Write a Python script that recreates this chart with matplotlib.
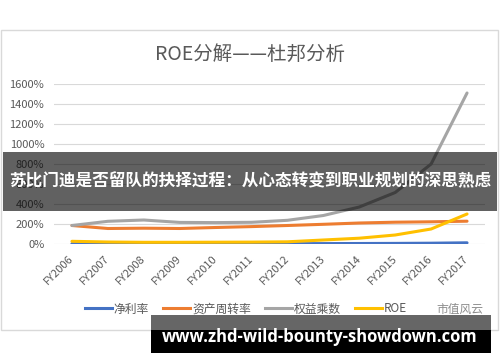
import matplotlib
matplotlib.use("Agg")
import matplotlib.pyplot as plt
from matplotlib.patches import Rectangle
from matplotlib.lines import Line2D

plt.rcParams['font.family'] = ['Noto Sans CJK SC', 'DejaVu Sans']

years = ["FY2006", "FY2007", "FY2008", "FY2009", "FY2010", "FY2011",
         "FY2012", "FY2013", "FY2014", "FY2015", "FY2016", "FY2017"]
net_margin = [3, 3, 2, 2, 2, 3, 3, 4, 5, 6, 8, 12]
asset_turnover = [185, 155, 158, 155, 165, 174, 185, 197, 210, 218, 222, 228]
equity_multiplier = [185, 227, 240, 216, 214, 217, 237, 285, 370, 515, 800, 1510]
roe = [27, 20, 17, 17, 18, 19, 22, 40, 58, 90, 150, 300]
yticks = [0, 200, 400, 600, 800, 1000, 1200, 1400, 1600]

series = [("净利率", net_margin, "#4472C4"),
          ("资产周转率", asset_turnover, "#ED7D31"),
          ("权益乘数", equity_multiplier, "#A5A5A5"),
          ("ROE", roe, "#FFC000")]

W, H = 500, 362
fig = plt.figure(figsize=(W / 100, H / 100), dpi=100)
fig.patch.set_facecolor("white")

def fx(px):
    return px / W

def fy(py):
    return 1 - py / H

# chart border
fig.add_artist(Rectangle((fx(1), fy(330)), fx(497), (330 - 30) / H,
                         transform=fig.transFigure, fill=False,
                         edgecolor="#d9d9d9", linewidth=1.0, zorder=0))

ax = fig.add_axes([fx(54), fy(244), fx(485 - 54), (244 - 84) / H])
ax.set_facecolor("none")
x = list(range(len(years)))
for name, vals, col in series:
    ax.plot(x, vals, color=col, linewidth=2.2, solid_capstyle="round",
            solid_joinstyle="round", zorder=3)

ax.set_xlim(-0.5, len(years) - 0.5)
ax.set_ylim(0, 1600)
ax.set_yticks(yticks)
ax.set_yticklabels([f"{v}%" for v in yticks], fontsize=8, color="#595959")
ax.set_xticks(x)
ax.set_xticklabels(years, fontsize=8, color="#595959", rotation=45,
                   ha="right", va="center", rotation_mode="anchor")
ax.tick_params(axis="both", length=0)
ax.tick_params(axis="y", pad=7)
ax.tick_params(axis="x", pad=9)
ax.grid(axis="y", color="#d9d9d9", linewidth=0.8)
ax.set_axisbelow(True)
for s in ax.spines.values():
    s.set_visible(False)

fig.text(0.5, fy(54), "ROE分解——杜邦分析", ha="center", va="center",
         fontsize=14, color="#595959")

handles = [Line2D([0], [0], color=c, linewidth=2.2) for _, _, c in series]
fig.legend(handles, [n for n, _, _ in series], loc="center left",
           bbox_to_anchor=(fx(80), fy(309)), ncol=4, frameon=False,
           fontsize=8.5, handlelength=2.3, handletextpad=0.15,
           columnspacing=1.2, labelcolor="#595959", borderaxespad=0)

# watermark in legend area
fig.text(fx(436), fy(309), "市值风云", ha="left", va="center",
         fontsize=8.5, color="#8c8c8c", zorder=6)

# dark overlay band
fig.add_artist(Rectangle((fx(3), fy(211)), fx(494), (211 - 152) / H,
                         transform=fig.transFigure, facecolor="black",
                         alpha=0.62, edgecolor="none", zorder=10))
fig.text(0.5, fy(181), "苏比门迪是否留队的抉择过程：从心态转变到职业规划的深思熟虑",
         ha="center", va="center", fontsize=12.0, fontweight="bold",
         color="white", zorder=11)

# bottom banner
fig.add_artist(Rectangle((fx(151), fy(330)), fx(340), (330 - 315) / H,
                         transform=fig.transFigure, facecolor="#666666",
                         edgecolor="none", zorder=10))
fig.add_artist(Rectangle((fx(151), fy(353)), fx(340), (353 - 330) / H,
                         transform=fig.transFigure, facecolor="black",
                         edgecolor="none", zorder=10))
fig.text(fx(320), fy(337), "www.zhd-wild-bounty-showdown.com",
         ha="center", va="center", fontsize=12, fontweight="bold",
         family=["Open Sans", "DejaVu Sans"], color="white", zorder=11)

fig.savefig("out.png", dpi=100, facecolor="white")
